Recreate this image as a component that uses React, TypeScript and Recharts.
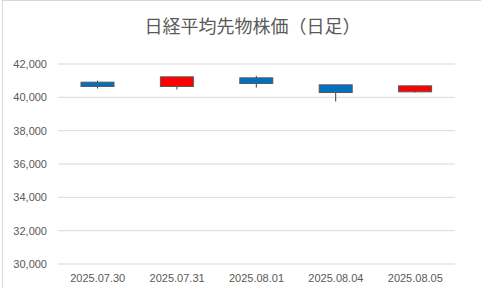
import React from "react";
import { ComposedChart, Bar, XAxis, YAxis, CartesianGrid } from "recharts";

const dates = ["2025.07.30", "2025.07.31", "2025.08.01", "2025.08.04", "2025.08.05"];
const opens = [40910, 40650, 41170, 40750, 40330];
const highs = [41000, 41230, 41290, 40750, 40690];
const lows = [40530, 40470, 40590, 39750, 40290];
const closes = [40650, 41230, 40830, 40290, 40690];
const yTicks = [30000, 32000, 34000, 36000, 38000, 40000, 42000];

const data = dates.map((d, i) => ({
  date: d,
  open: opens[i],
  high: highs[i],
  low: lows[i],
  close: closes[i],
  range: [lows[i], highs[i]],
}));

const Candle = (props: any) => {
  const { x, y, width, height, payload } = props;
  if (!payload) return null;
  const top = height >= 0 ? y : y + height;
  const h = Math.abs(height);
  const { open, close, high, low } = payload;
  const ratio = h / (high - low);
  const yOf = (v: number) => top + (high - v) * ratio;
  const up = close >= open;
  const bodyTop = yOf(Math.max(open, close));
  const bodyBot = yOf(Math.min(open, close));
  const cx = x + width / 2;
  return (
    <g>
      <line x1={cx} x2={cx} y1={yOf(high)} y2={yOf(low)} stroke="#404040" strokeWidth={1} />
      <rect
        x={x}
        y={bodyTop}
        width={width}
        height={Math.max(1, bodyBot - bodyTop)}
        fill={up ? "#FF0000" : "#0070C0"}
        stroke="#595959"
        strokeWidth={1}
      />
    </g>
  );
};

export default function App() {
  return (
    <div style={{ position: "absolute", left: 0, top: 0, width: 481, height: 288, background: "#fff" }}>
      <div
        style={{
          position: "absolute",
          left: 2,
          top: 0,
          width: 479,
          height: 288,
          borderTop: "1px solid #d9d9d9",
          borderLeft: "1px solid #d9d9d9",
          boxSizing: "border-box",
        }}
      />
      <div
        style={{
          position: "absolute",
          left: 0,
          width: 505,
          top: 13,
          textAlign: "center",
          fontFamily: "'Noto Sans CJK JP', sans-serif",
          fontSize: 18,
          lineHeight: "24px",
          color: "#595959",
        }}
      >
        日経平均先物株価（日足）
      </div>
      <div style={{ position: "absolute", left: 0, top: 0 }}>
        <ComposedChart
          width={481}
          height={288}
          data={data}
          margin={{ top: 64, right: 26, bottom: 0, left: 0 }}
        >
          <CartesianGrid vertical={false} stroke="#d9d9d9" strokeWidth={1} />
          <XAxis
            dataKey="date"
            axisLine={false}
            tickLine={false}
            tickSize={0}
            tickMargin={10}
            height={24}
            interval={0}
            tick={{ fill: "#595959", fontSize: 11, fontFamily: "'Liberation Sans', Arial, sans-serif" }}
          />
          <YAxis
            domain={[30000, 42000]}
            ticks={yTicks}
            width={58}
            axisLine={false}
            tickLine={false}
            tickSize={0}
            tickMargin={11}
            interval={0}
            tickFormatter={(v: number) => v.toLocaleString("en-US")}
            tick={{ fill: "#595959", fontSize: 11, fontFamily: "'Liberation Sans', Arial, sans-serif" }}
          />
          <Bar dataKey="range" barSize={33} shape={<Candle />} isAnimationActive={false} />
        </ComposedChart>
      </div>
    </div>
  );
}
